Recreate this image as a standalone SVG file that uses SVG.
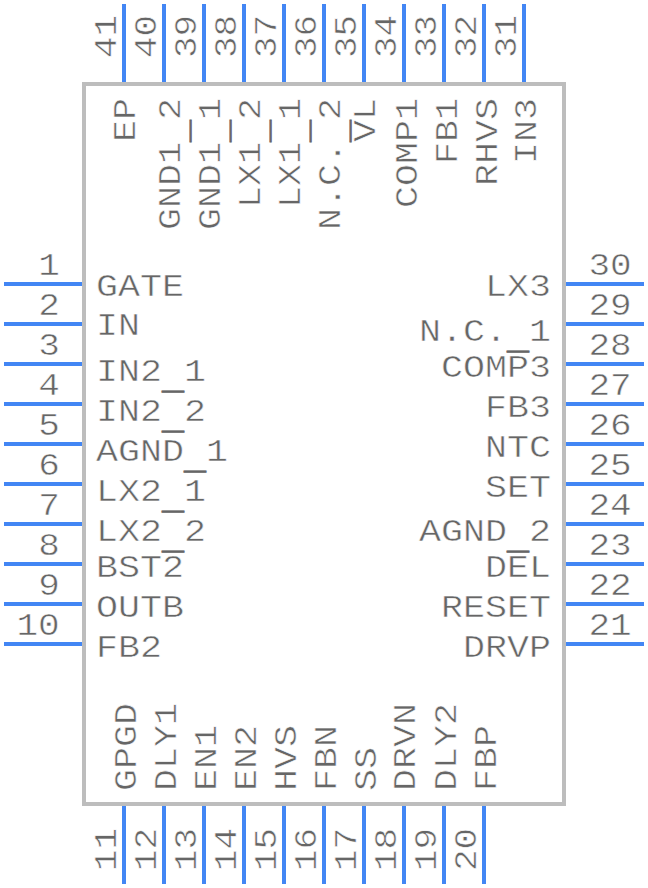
<svg xmlns="http://www.w3.org/2000/svg" width="648" height="888" viewBox="0 0 648 888">
<style>
.p{stroke:#4286f4;stroke-width:4;fill:none}
.b{stroke:#bdbdbd;stroke-width:4;fill:#fff}
text{font-family:"Liberation Mono",monospace;font-size:32px;fill:#666;stroke:#fff;stroke-width:.5px}
.e{text-anchor:end}
.m{text-anchor:middle}
.u{stroke:#666;stroke-width:.8px}
</style>
<rect width="648" height="888" fill="#fff"/>
<g id="body"><rect class="b" x="84" y="84" width="480" height="720"/></g>
<g id="connectors">
<path class="p" d="M4 284H82M4 324H82M4 364H82M4 404H82M4 444H82M4 484H82M4 524H82M4 564H82M4 604H82M4 644H82"/>
<path class="p" d="M566 284H644M566 324H644M566 364H644M566 404H644M566 444H644M566 484H644M566 524H644M566 564H644M566 604H644M566 644H644"/>
<path class="p" d="M124 806V884M164 806V884M204 806V884M244 806V884M284 806V884M324 806V884M364 806V884M404 806V884M444 806V884M484 806V884"/>
<path class="p" d="M124 4V82M164 4V82M204 4V82M244 4V82M284 4V82M324 4V82M364 4V82M404 4V82M444 4V82M484 4V82M524 4V82"/>
</g>
<g id="left-labels">
<text lengthAdjust="spacingAndGlyphs" textLength="88" x="96" y="296">GATE</text><text lengthAdjust="spacingAndGlyphs" textLength="44" x="96" y="335">IN</text><text lengthAdjust="spacingAndGlyphs" textLength="110" x="96" y="381">IN2<tspan class="u" dy="8">_</tspan><tspan dy="-8">1</tspan></text><text lengthAdjust="spacingAndGlyphs" textLength="110" x="96" y="421">IN2<tspan class="u" dy="8">_</tspan><tspan dy="-8">2</tspan></text><text lengthAdjust="spacingAndGlyphs" textLength="132" x="96" y="461">AGND<tspan class="u" dy="8">_</tspan><tspan dy="-8">1</tspan></text><text lengthAdjust="spacingAndGlyphs" textLength="110" x="96" y="501">LX2<tspan class="u" dy="8">_</tspan><tspan dy="-8">1</tspan></text><text lengthAdjust="spacingAndGlyphs" textLength="110" x="96" y="541">LX2<tspan class="u" dy="8">_</tspan><tspan dy="-8">2</tspan></text><text lengthAdjust="spacingAndGlyphs" textLength="88" x="96" y="577">BST2</text><text lengthAdjust="spacingAndGlyphs" textLength="88" x="96" y="617">OUTB</text><text lengthAdjust="spacingAndGlyphs" textLength="66" x="96" y="657">FB2</text>
</g>
<g id="right-labels">
<text lengthAdjust="spacingAndGlyphs" textLength="66" class="e" x="551" y="296">LX3</text><text lengthAdjust="spacingAndGlyphs" textLength="132" class="e" x="551" y="341">N.C.<tspan class="u" dy="8">_</tspan><tspan dy="-8">1</tspan></text><text lengthAdjust="spacingAndGlyphs" textLength="110" class="e" x="551" y="377">COMP3</text><text lengthAdjust="spacingAndGlyphs" textLength="66" class="e" x="551" y="417">FB3</text><text lengthAdjust="spacingAndGlyphs" textLength="66" class="e" x="551" y="457">NTC</text><text lengthAdjust="spacingAndGlyphs" textLength="66" class="e" x="551" y="497">SET</text><text lengthAdjust="spacingAndGlyphs" textLength="132" class="e" x="551" y="541">AGND<tspan class="u" dy="8">_</tspan><tspan dy="-8">2</tspan></text><text lengthAdjust="spacingAndGlyphs" textLength="66" class="e" x="551" y="577">DEL</text><text lengthAdjust="spacingAndGlyphs" textLength="110" class="e" x="551" y="617">RESET</text><text lengthAdjust="spacingAndGlyphs" textLength="88" class="e" x="551" y="657">DRVP</text>
</g>
<g id="top-labels">
<text lengthAdjust="spacingAndGlyphs" textLength="44" class="e" transform="translate(135 98) rotate(-90)">EP</text><text lengthAdjust="spacingAndGlyphs" textLength="132" class="e" transform="translate(180 98) rotate(-90)">GND1<tspan class="u" dy="8">_</tspan><tspan dy="-8">2</tspan></text><text lengthAdjust="spacingAndGlyphs" textLength="132" class="e" transform="translate(220 98) rotate(-90)">GND1<tspan class="u" dy="8">_</tspan><tspan dy="-8">1</tspan></text><text lengthAdjust="spacingAndGlyphs" textLength="110" class="e" transform="translate(260 98) rotate(-90)">LX1<tspan class="u" dy="8">_</tspan><tspan dy="-8">2</tspan></text><text lengthAdjust="spacingAndGlyphs" textLength="110" class="e" transform="translate(300 98) rotate(-90)">LX1<tspan class="u" dy="8">_</tspan><tspan dy="-8">1</tspan></text><text lengthAdjust="spacingAndGlyphs" textLength="132" class="e" transform="translate(340 98) rotate(-90)">N.C.<tspan class="u" dy="8">_</tspan><tspan dy="-8">2</tspan></text><text lengthAdjust="spacingAndGlyphs" textLength="44" class="e" transform="translate(375 98) rotate(-90)">VL</text><text lengthAdjust="spacingAndGlyphs" textLength="110" class="e" transform="translate(417 98) rotate(-90)">COMP1</text><text lengthAdjust="spacingAndGlyphs" textLength="66" class="e" transform="translate(457 98) rotate(-90)">FB1</text><text lengthAdjust="spacingAndGlyphs" textLength="88" class="e" transform="translate(497 98) rotate(-90)">RHVS</text><text lengthAdjust="spacingAndGlyphs" textLength="66" class="e" transform="translate(536 98) rotate(-90)">IN3</text>
</g>
<g id="bottom-labels">
<text lengthAdjust="spacingAndGlyphs" textLength="88" transform="translate(136 791) rotate(-90)">GPGD</text><text lengthAdjust="spacingAndGlyphs" textLength="88" transform="translate(176 791) rotate(-90)">DLY1</text><text lengthAdjust="spacingAndGlyphs" textLength="66" transform="translate(216 791) rotate(-90)">EN1</text><text lengthAdjust="spacingAndGlyphs" textLength="66" transform="translate(256 791) rotate(-90)">EN2</text><text lengthAdjust="spacingAndGlyphs" textLength="66" transform="translate(296 791) rotate(-90)">HVS</text><text lengthAdjust="spacingAndGlyphs" textLength="66" transform="translate(336 791) rotate(-90)">FBN</text><text lengthAdjust="spacingAndGlyphs" textLength="44" transform="translate(376 791) rotate(-90)">SS</text><text lengthAdjust="spacingAndGlyphs" textLength="88" transform="translate(415 791) rotate(-90)">DRVN</text><text lengthAdjust="spacingAndGlyphs" textLength="88" transform="translate(456 791) rotate(-90)">DLY2</text><text lengthAdjust="spacingAndGlyphs" textLength="66" transform="translate(496 791) rotate(-90)">FBP</text>
</g>
<g id="left-numbers">
<text lengthAdjust="spacingAndGlyphs" textLength="21.6" class="m" x="49" y="275">1</text><text lengthAdjust="spacingAndGlyphs" textLength="21.6" class="m" x="49" y="315">2</text><text lengthAdjust="spacingAndGlyphs" textLength="21.6" class="m" x="49" y="355">3</text><text lengthAdjust="spacingAndGlyphs" textLength="21.6" class="m" x="49" y="395">4</text><text lengthAdjust="spacingAndGlyphs" textLength="21.6" class="m" x="49" y="435">5</text><text lengthAdjust="spacingAndGlyphs" textLength="21.6" class="m" x="49" y="475">6</text><text lengthAdjust="spacingAndGlyphs" textLength="21.6" class="m" x="49" y="515">7</text><text lengthAdjust="spacingAndGlyphs" textLength="21.6" class="m" x="49" y="555">8</text><text lengthAdjust="spacingAndGlyphs" textLength="21.6" class="m" x="49" y="595">9</text><text lengthAdjust="spacingAndGlyphs" textLength="43.2" class="m" x="38" y="635">10</text>
</g>
<g id="right-numbers">
<text lengthAdjust="spacingAndGlyphs" textLength="43.2" class="m" x="610" y="275">30</text><text lengthAdjust="spacingAndGlyphs" textLength="43.2" class="m" x="610" y="315">29</text><text lengthAdjust="spacingAndGlyphs" textLength="43.2" class="m" x="610" y="355">28</text><text lengthAdjust="spacingAndGlyphs" textLength="43.2" class="m" x="610" y="395">27</text><text lengthAdjust="spacingAndGlyphs" textLength="43.2" class="m" x="610" y="435">26</text><text lengthAdjust="spacingAndGlyphs" textLength="43.2" class="m" x="610" y="475">25</text><text lengthAdjust="spacingAndGlyphs" textLength="43.2" class="m" x="610" y="515">24</text><text lengthAdjust="spacingAndGlyphs" textLength="43.2" class="m" x="610" y="555">23</text><text lengthAdjust="spacingAndGlyphs" textLength="43.2" class="m" x="610" y="595">22</text><text lengthAdjust="spacingAndGlyphs" textLength="43.2" class="m" x="610" y="635">21</text>
</g>
<g id="top-numbers">
<text lengthAdjust="spacingAndGlyphs" textLength="43.2" transform="translate(116 58) rotate(-90)">41</text><text lengthAdjust="spacingAndGlyphs" textLength="43.2" transform="translate(156 58) rotate(-90)">40</text><text lengthAdjust="spacingAndGlyphs" textLength="43.2" transform="translate(196 58) rotate(-90)">39</text><text lengthAdjust="spacingAndGlyphs" textLength="43.2" transform="translate(236 58) rotate(-90)">38</text><text lengthAdjust="spacingAndGlyphs" textLength="43.2" transform="translate(276 58) rotate(-90)">37</text><text lengthAdjust="spacingAndGlyphs" textLength="43.2" transform="translate(316 58) rotate(-90)">36</text><text lengthAdjust="spacingAndGlyphs" textLength="43.2" transform="translate(356 58) rotate(-90)">35</text><text lengthAdjust="spacingAndGlyphs" textLength="43.2" transform="translate(396 58) rotate(-90)">34</text><text lengthAdjust="spacingAndGlyphs" textLength="43.2" transform="translate(436 58) rotate(-90)">33</text><text lengthAdjust="spacingAndGlyphs" textLength="43.2" transform="translate(476 58) rotate(-90)">32</text><text lengthAdjust="spacingAndGlyphs" textLength="43.2" transform="translate(516 58) rotate(-90)">31</text>
</g>
<g id="bottom-numbers">
<text lengthAdjust="spacingAndGlyphs" textLength="43.2" transform="translate(116 871) rotate(-90)">11</text><text lengthAdjust="spacingAndGlyphs" textLength="43.2" transform="translate(156 871) rotate(-90)">12</text><text lengthAdjust="spacingAndGlyphs" textLength="43.2" transform="translate(196 871) rotate(-90)">13</text><text lengthAdjust="spacingAndGlyphs" textLength="43.2" transform="translate(236 871) rotate(-90)">14</text><text lengthAdjust="spacingAndGlyphs" textLength="43.2" transform="translate(276 871) rotate(-90)">15</text><text lengthAdjust="spacingAndGlyphs" textLength="43.2" transform="translate(316 871) rotate(-90)">16</text><text lengthAdjust="spacingAndGlyphs" textLength="43.2" transform="translate(356 871) rotate(-90)">17</text><text lengthAdjust="spacingAndGlyphs" textLength="43.2" transform="translate(396 871) rotate(-90)">18</text><text lengthAdjust="spacingAndGlyphs" textLength="43.2" transform="translate(436 871) rotate(-90)">19</text><text lengthAdjust="spacingAndGlyphs" textLength="43.2" transform="translate(476 871) rotate(-90)">20</text>
</g>
</svg>
